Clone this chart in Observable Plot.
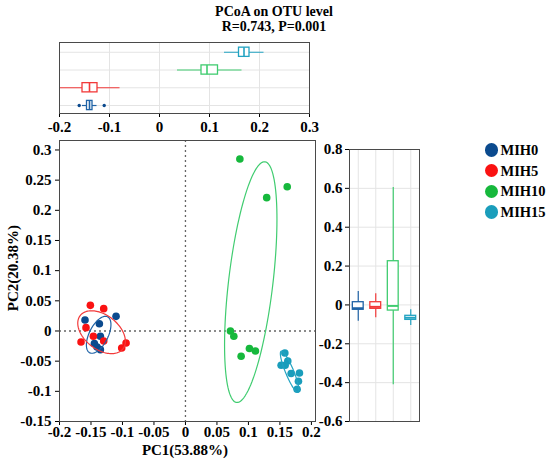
<!DOCTYPE html>
<html><head><meta charset="utf-8">
<script src="https://cdn.jsdelivr.net/npm/d3@7"></script>
<script src="https://cdn.jsdelivr.net/npm/@observablehq/plot@0.6"></script>
<style>
body{margin:0;background:#fff;}
#wrap{position:relative;width:550px;height:463px;font-family:"Liberation Serif","Times New Roman",serif;font-weight:bold;color:#000;overflow:hidden;background:#fff}
#wrap svg{position:absolute;left:0;top:0}
.t{position:absolute;white-space:nowrap;line-height:1}
</style></head><body><div id="wrap"></div>
<script>
// ---------- data ----------
const groups = ["MIH0", "MIH5", "MIH10", "MIH15"];
const pointColors = ["#0b4a8e", "#fa1212", "#16b83c", "#1a9dbb"];
const lineColors = ["#1f63a6", "#f23a3a", "#40cc70", "#22a3c2"];

const mih0X = [-0.1595, -0.1102, -0.1367, -0.1351, -0.1446, -0.1404, -0.1351];
const mih0Y = [0.0182, 0.0243, 0.0121, -0.0088, -0.0210, -0.0265, -0.0309];
const mih5X = [-0.151, -0.1298, -0.1579, -0.1462, -0.1298, -0.1658, -0.0943, -0.1012];
const mih5Y = [0.0425, 0.0370, 0.0055, -0.0088, -0.0165, -0.0182, -0.0199, -0.0281];
const mih10X = [0.0864, 0.1616, 0.129, 0.0714, 0.0768, 0.1016, 0.1111, 0.0884];
const mih10Y = [0.285, 0.239, 0.221, 0.0, -0.0088, -0.0291, -0.0331, -0.0419];
const mih15X = [0.1578, 0.1625, 0.1519, 0.1583, 0.1678, 0.181, 0.1794, 0.1773];
const mih15Y = [-0.0364, -0.0497, -0.0568, -0.0568, -0.0705, -0.0695, -0.0833, -0.0965];

// confidence ellipses: centre, x/y half-extent, correlation
const ellCx = [-0.1378, -0.1332, 0.1037, 0.1654];
const ellCy = [-0.0063, -0.0020, 0.0810, -0.0675];
const ellSx = [0.0195, 0.0378, 0.0416, 0.0147];
const ellSy = [0.0306, 0.0355, 0.1995, 0.0341];
const ellRho = [0.55, -0.42, 0.523, -0.88];

// PC1 boxplot (top): min, q1, median, q3, max
const pc1Min = [-0.154, -0.200, 0.036, 0.130];
const pc1Q1 = [-0.145, -0.154, 0.084, 0.159];
const pc1Med = [-0.140, -0.140, 0.095, 0.169];
const pc1Q3 = [-0.134, -0.124, 0.117, 0.180];
const pc1Max = [-0.125, -0.079, 0.165, 0.209];
const pc1OutGroup = ["MIH0", "MIH0"];
const pc1OutX = [-0.1606, -0.1106];

// PC2 boxplot (right)
const pc2Min = [-0.084, -0.066, -0.411, -0.106];
const pc2Q1 = [-0.025, -0.020, -0.029, -0.077];
const pc2Med = [-0.017, -0.010, -0.005, -0.066];
const pc2Q3 = [0.014, 0.014, 0.225, -0.056];
const pc2Max = [0.069, 0.057, 0.604, -0.025];

// ticks
const topXTicks = [-0.2, -0.1, 0, 0.1, 0.2, 0.3];
const mainXTicks = [-0.2, -0.15, -0.1, -0.05, 0, 0.05, 0.1, 0.15, 0.2];
const mainYTicks = [-0.15, -0.1, -0.05, 0, 0.05, 0.1, 0.15, 0.2, 0.25, 0.3];
const rightYTicks = [-0.6, -0.4, -0.2, 0, 0.2, 0.4, 0.6, 0.8];

const titleText = "PCoA on OTU level";
const subtitleText = "R=0.743, P=0.001";
const xLabel = "PC1(53.88%)";
const yLabel = "PC2(20.38%)";

// ---------- tables ----------
const xs = [mih0X, mih5X, mih10X, mih15X];
const ys = [mih0Y, mih5Y, mih10Y, mih15Y];
const points = groups.flatMap((g, gi) => xs[gi].map((x, k) => ({group: g, gi, x, y: ys[gi][k]})));

const ellipses = groups.map((g, gi) => {
  const pts = [];
  const n = 120;
  const s = Math.sqrt(1 - ellRho[gi] * ellRho[gi]);
  for (let k = 0; k <= n; k++) {
    const t = (2 * Math.PI * k) / n;
    pts.push({
      x: ellCx[gi] + ellSx[gi] * Math.cos(t),
      y: ellCy[gi] + ellSy[gi] * (ellRho[gi] * Math.cos(t) + s * Math.sin(t))
    });
  }
  return pts;
});

const boxTop = groups.map((g, i) => ({g, i, min: pc1Min[i], q1: pc1Q1[i], med: pc1Med[i], q3: pc1Q3[i], max: pc1Max[i], c: lineColors[i]}));
const boxRight = groups.map((g, i) => ({g, i, min: pc2Min[i], q1: pc2Q1[i], med: pc2Med[i], q3: pc2Q3[i], max: pc2Max[i], c: lineColors[i]}));
const outTop = pc1OutX.map((x, k) => ({x, i: groups.indexOf(pc1OutGroup[k]), c: pointColors[groups.indexOf(pc1OutGroup[k])]}));
const idx = groups.map((g, i) => i);

const fmt = d => String(d);
const W = 550, H = 463;
const baseStyle = {background: "transparent", fontFamily: "'Liberation Serif', 'Times New Roman', serif", fontSize: "15px", fontWeight: "bold", color: "#000", overflow: "visible"};
const grid = "#e4e4e4";
const frameStroke = "#4a4a4a";

// ---------- top panel (PC1 boxplot) ----------
const topPlot = Plot.plot({
  width: W, height: H,
  marginLeft: 59, marginRight: W - 309, marginTop: 42, marginBottom: H - 113,
  style: baseStyle,
  color: {type: "identity"},
  x: {domain: [-0.2, 0.3], ticks: topXTicks, tickFormat: fmt, tickSize: 4, tickPadding: 4, label: null},
  y: {domain: [-0.45, 3.55], axis: null},
  marks: [
    Plot.ruleX(topXTicks, {x: d => d, stroke: grid}),
    Plot.ruleY(idx, {y: d => d, stroke: grid}),
    Plot.ruleY(boxTop, {y: "i", x1: "min", x2: "max", stroke: "c", strokeWidth: 1.2}),
    Plot.rect(boxTop, {x1: "q1", x2: "q3", y1: d => d.i - 0.26, y2: d => d.i + 0.26, fill: "white", stroke: "c", strokeWidth: 1.3}),
    Plot.ruleX(boxTop, {x: "med", y1: d => d.i - 0.26, y2: d => d.i + 0.26, stroke: "c", strokeWidth: 1.6}),
    Plot.dot(outTop, {x: "x", y: "i", r: 1.7, fill: "c", stroke: "none"}),
    Plot.frame({stroke: frameStroke})
  ]
});

// ---------- main scatter ----------
const mainMarks = [
  Plot.ruleX([0], {x: d => d, stroke: "#666", strokeDasharray: "2,3", strokeWidth: 1.3}),
  Plot.ruleY([0], {y: d => d, stroke: "#666", strokeDasharray: "2,3", strokeWidth: 1.3})
];
groups.forEach((g, gi) => {
  mainMarks.push(Plot.dot(points.filter(p => p.gi === gi), {x: "x", y: "y", r: 3.8, fill: pointColors[gi], stroke: "none"}));
});
groups.forEach((g, gi) => {
  mainMarks.push(Plot.line(ellipses[gi], {x: "x", y: "y", stroke: lineColors[gi], strokeWidth: 1.2, curve: "linear"}));
});
mainMarks.push(Plot.frame({stroke: frameStroke}));

const mainPlot = Plot.plot({
  width: W, height: H,
  marginLeft: 59, marginRight: W - 315, marginTop: 140, marginBottom: H - 421,
  style: baseStyle,
  color: {type: "identity"},
  x: {domain: [-0.2, 0.2065], ticks: mainXTicks, tickFormat: fmt, tickSize: 4, tickPadding: 1, label: null},
  y: {domain: [-0.15, 0.3157], ticks: mainYTicks, tickFormat: fmt, tickSize: 4, tickPadding: 4, label: null},
  marks: mainMarks
});

// ---------- right panel (PC2 boxplot) ----------
const rightPlot = Plot.plot({
  width: W, height: H,
  marginLeft: 349, marginRight: W - 419, marginTop: 149, marginBottom: H - 421,
  style: baseStyle,
  color: {type: "identity"},
  x: {domain: [-0.5, 3.5], axis: null},
  y: {domain: [-0.6, 0.8], ticks: rightYTicks, tickFormat: fmt, tickSize: 4, tickPadding: 3, label: null},
  marks: [
    Plot.ruleY(rightYTicks, {y: d => d, stroke: grid}),
    Plot.ruleX(idx, {x: d => d, stroke: grid}),
    Plot.ruleX(boxRight, {x: "i", y1: "min", y2: "max", stroke: "c", strokeWidth: 1.2}),
    Plot.rect(boxRight, {x1: d => d.i - 0.31, x2: d => d.i + 0.31, y1: "q1", y2: "q3", fill: "white", stroke: "c", strokeWidth: 1.3}),
    Plot.ruleY(boxRight, {y: "med", x1: d => d.i - 0.31, x2: d => d.i + 0.31, stroke: "c", strokeWidth: 2}),
    Plot.frame({stroke: frameStroke})
  ]
});

const wrap = document.getElementById("wrap");
wrap.appendChild(mainPlot);
wrap.appendChild(topPlot);
wrap.appendChild(rightPlot);

function addText(txt, left, top, size, extra) {
  const d = document.createElement("div");
  d.className = "t";
  d.textContent = txt;
  d.style.left = left + "px";
  d.style.top = top + "px";
  d.style.fontSize = size + "px";
  if (extra) Object.assign(d.style, extra);
  wrap.appendChild(d);
  return d;
}
addText(titleText, 274, 12, 14, {transform: "translate(-50%,-50%)"});
addText(subtitleText, 274, 27, 14, {transform: "translate(-50%,-50%)"});
addText(xLabel, 185, 450, 15, {transform: "translate(-50%,-50%)"});
addText(yLabel, 12.5, 268, 15, {transform: "translate(-50%,-50%) rotate(-90deg)"});

// legend
const legendY = [150, 170.7, 191.3, 212];
groups.forEach((g, gi) => {
  const c = document.createElement("div");
  c.style.position = "absolute";
  c.style.left = (491.7 - 6.8) + "px";
  c.style.top = (legendY[gi] - 6.8) + "px";
  c.style.width = "13.6px";
  c.style.height = "13.6px";
  c.style.borderRadius = "50%";
  c.style.background = pointColors[gi];
  wrap.appendChild(c);
  addText(g, 500.5, legendY[gi], 14.5, {transform: "translateY(-50%)"});
});
</script>
</body></html>
